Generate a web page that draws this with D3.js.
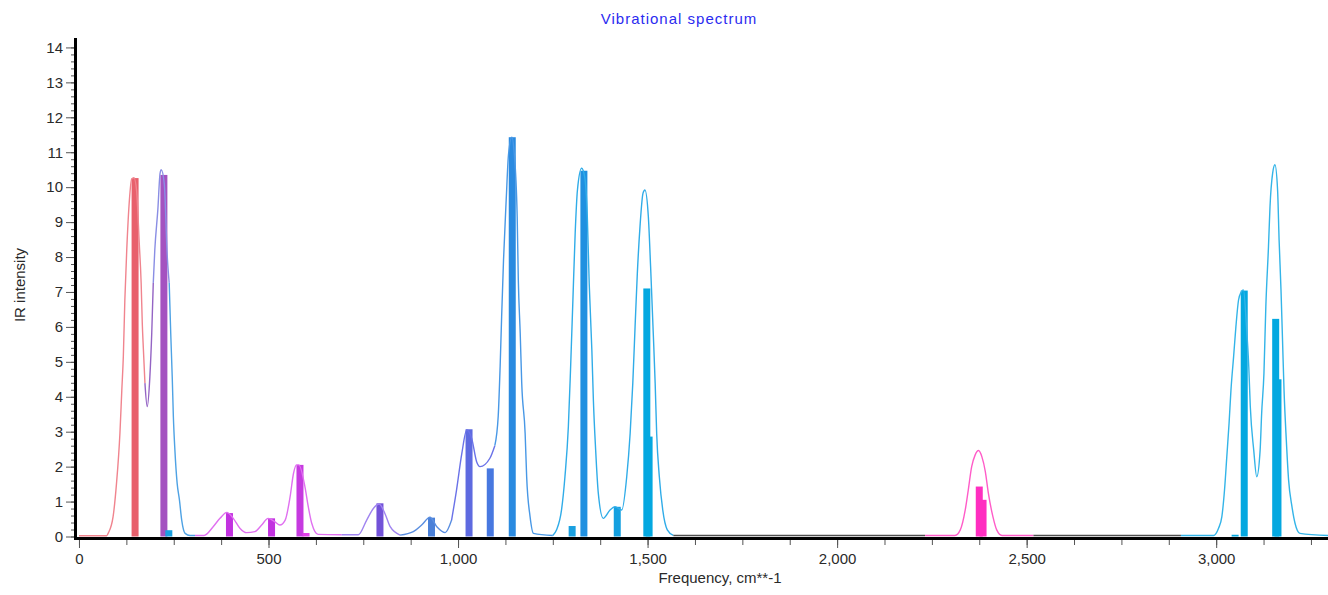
<!DOCTYPE html>
<html>
<head>
<meta charset="utf-8">
<script src="https://cdn.jsdelivr.net/npm/d3@7"></script>
<style>
  body { margin: 0; background: #fff; }
  svg text { font-family: "Liberation Sans", Arial, sans-serif; }
</style>
</head>
<body>
<div id="chart"></div>
<script>
// stick spectrum (frequency cm-1, IR intensity, colour)
var barFreq  = [148, 224, 237, 397, 508, 583, 599, 794, 930, 1029, 1085, 1143, 1301, 1332, 1420, 1498, 1504, 2375, 2385, 3050, 3074, 3157, 3163];
var barInt   = [10.26, 10.35, 0.18, 0.67, 0.52, 2.05, 0.1, 0.95, 0.54, 3.07, 1.95, 11.43, 0.3, 10.47, 0.85, 7.1, 2.86, 1.43, 1.05, 0.05, 7.04, 6.23, 4.5];
var barColor = ["#e8606c", "#a452c0", "#1aa0e0", "#c232e0", "#c232e0", "#c63ae0", "#e040e8", "#7252d8", "#4a80d8",
                "#5e6ae0", "#4878e0", "#2a8ae0", "#1aa0e0", "#2090e0", "#14a0e0", "#04a8e0", "#04a8e0", "#ff2ec0",
                "#ff2ec0", "#04a8e0", "#04a8e0", "#04a8e0", "#04a8e0"];

// broadened envelope
var envFreq = [0, 73, 77, 90, 99, 108, 113, 117, 121, 126, 133, 139, 145, 152, 159, 164, 167, 170, 174, 180,
               187, 192, 196, 200, 208, 214, 217, 225, 233, 238, 242, 246, 249, 253, 259, 265, 271, 280, 293, 306,
               330, 354, 372, 390, 407, 425, 442, 464, 482, 499, 517, 530, 544, 557, 566, 574, 580, 596, 605, 614,
               631, 693, 737, 759, 777, 792, 807, 821, 847, 882, 904, 926, 944, 966, 983, 996, 1010, 1023, 1036, 1049,
               1058, 1084, 1097, 1106, 1111, 1115, 1120, 1127, 1133, 1142, 1148, 1156, 1159, 1164, 1168, 1177, 1181, 1190, 1199, 1250,
               1260, 1273, 1282, 1291, 1297, 1303, 1309, 1315, 1326, 1334, 1341, 1346, 1353, 1357, 1363, 1370, 1383, 1401, 1414, 1432,
               1445, 1454, 1461, 1467, 1473, 1480, 1488, 1493, 1502, 1508, 1515, 1520, 1524, 1531, 1540, 1552, 1568, 2232, 2311, 2325,
               2338, 2346, 2355, 2364, 2373, 2382, 2391, 2399, 2411, 2421, 2435, 2518, 2907, 2993, 3006, 3015, 3022, 3028, 3034, 3039,
               3046, 3052, 3059, 3066, 3072, 3080, 3086, 3090, 3099, 3107, 3116, 3120, 3126, 3131, 3138, 3142, 3149, 3155, 3162, 3166,
               3171, 3175, 3179, 3185, 3191, 3200, 3208, 3221, 3295];
var envInt  = [0.02, 0.02, 0.09, 0.57, 1.52, 2.95, 4.19, 5.15, 6.77, 8.2, 9.63, 10.23, 10.27, 9.9, 8.4, 7.26, 6.1, 5.34, 4.39, 3.72,
               4.57, 5.83, 7.26, 8.2, 9.35, 10.4, 10.5, 10.1, 8.0, 7.26, 5.83, 4.57, 3.43, 2.48, 1.52, 1.05, 0.47, 0.09, 0.03, 0.03,
               0.03, 0.28, 0.52, 0.69, 0.52, 0.23, 0.11, 0.14, 0.33, 0.52, 0.42, 0.33, 0.47, 1.14, 1.81, 2.05, 2.05, 1.43, 0.85, 0.38,
               0.06, 0.05, 0.05, 0.47, 0.81, 0.93, 0.66, 0.28, 0.04, 0.14, 0.33, 0.55, 0.28, 0.11, 0.47, 1.33, 2.38, 3.05, 2.81, 2.14,
               2.0, 2.24, 2.6, 3.45, 4.86, 6.29, 7.92, 9.63, 10.92, 11.43, 11.0, 9.16, 7.34, 5.82, 4.39, 2.95, 1.71, 0.57, 0.09, 0.03,
               0.19, 0.76, 1.71, 3.14, 4.86, 6.77, 8.68, 9.92, 10.54, 10.3, 9.16, 7.25, 5.34, 3.91, 2.48, 1.24, 0.52, 0.76, 0.85, 0.76,
               1.71, 2.95, 4.39, 6.0, 7.54, 8.87, 9.83, 9.92, 9.16, 7.72, 5.82, 4.39, 2.95, 1.71, 0.76, 0.19, 0.03, 0.03, 0.03, 0.19,
               0.76, 1.33, 2.0, 2.33, 2.46, 2.28, 1.86, 1.24, 0.57, 0.19, 0.03, 0.03, 0.03, 0.03, 0.23, 0.57, 1.33, 2.28, 3.24, 4.19,
               5.15, 6.0, 6.77, 7.0, 7.06, 6.0, 4.86, 3.72, 2.48, 1.71, 2.48, 3.53, 4.67, 6.58, 8.3, 9.44, 10.4, 10.64, 9.92, 8.49,
               7.06, 5.63, 4.19, 2.76, 1.62, 0.85, 0.38, 0.09, 0.03];

// envelope colour changes at these frequencies
var segStart = [0, 174, 196, 238, 306, 693, 847, 983, 1097, 1250, 1568, 2232, 2518, 2907];
var segColor = ["#f0848e", "#9464c4", "#8a8ee4", "#4ea2e4", "#e070f0", "#a084f0", "#5a8ee0", "#6a72e8",
                "#4898e6", "#30ace8", "#505050", "#ff5cc8", "#505050", "#33b4e8"];

var xTicks = [0, 500, 1000, 1500, 2000, 2500, 3000];
var yTicks = [0, 1, 2, 3, 4, 5, 6, 7, 8, 9, 10, 11, 12, 13, 14];

var chart = (function () {
    'use strict';

    var width = 1328, height = 595;

    var init = function () {
        var config = {};
        config.svg = d3.select("#chart").append("svg")
            .attr("width", width)
            .attr("height", height);

        config.x = d3.scaleLinear().domain([-10.5, 3295]).range([75, 1328]);
        config.y = d3.scaleLinear().domain([0, 14.27]).range([536.5, 38]);

        axes(config);
        bars(config);
        envelope(config);
        labels(config);
        return config;
    };

    var axes = function (config) {
        var svg = config.svg, x = config.x, y = config.y;
        var yMinor = d3.range(0, 14.01, 0.2);
        var xMinor = d3.range(0, 3295, 125);

        svg.append("g")
            .attr("transform", "translate(75,0)")
            .call(d3.axisLeft(y).tickValues(yMinor).tickSize(4).tickFormat(""))
            .call(function (g) { g.select(".domain").remove(); })
            .selectAll("line").attr("stroke", "#555");

        var gy = svg.append("g")
            .attr("transform", "translate(75,0)")
            .call(d3.axisLeft(y).tickValues(yTicks).tickSize(9).tickPadding(3).tickFormat(d3.format("d")));
        gy.select(".domain").remove();
        gy.selectAll("line").attr("stroke", "#555");
        gy.selectAll("text").attr("font-size", 15).attr("fill", "#2a2a2a")
            .attr("font-family", "Liberation Sans, Arial, sans-serif");

        svg.append("g")
            .attr("transform", "translate(0,540)")
            .call(d3.axisBottom(x).tickValues(xMinor).tickSize(5).tickFormat(""))
            .call(function (g) { g.select(".domain").remove(); })
            .selectAll("line").attr("stroke", "#555");

        var gx = svg.append("g")
            .attr("transform", "translate(0,540)")
            .call(d3.axisBottom(x).tickValues(xTicks).tickSize(8).tickPadding(5).tickFormat(d3.format(",")));
        gx.select(".domain").remove();
        gx.selectAll("line").attr("stroke", "#555");
        gx.selectAll("text").attr("font-size", 15).attr("fill", "#2a2a2a")
            .attr("font-family", "Liberation Sans, Arial, sans-serif");

        // heavy axis lines
        svg.append("line")
            .attr("x1", 75.5).attr("x2", 75.5).attr("y1", 38).attr("y2", 540)
            .attr("stroke", "#000").attr("stroke-width", 3);
        svg.append("line")
            .attr("x1", 74).attr("x2", 1328).attr("y1", 538.5).attr("y2", 538.5)
            .attr("stroke", "#000").attr("stroke-width", 3);
    };

    var bars = function (config) {
        var x = config.x, y = config.y;
        var data = barFreq.map(function (f, i) {
            return { f: f, v: barInt[i], c: barColor[i] };
        });
        config.svg.append("g").selectAll("rect")
            .data(data)
            .enter()
            .append("rect")
            .attr("x", function (d) { return x(d.f) - 3.5; })
            .attr("width", 7)
            .attr("y", function (d) { return y(d.v); })
            .attr("height", function (d) { return y(0) - y(d.v); })
            .attr("fill", function (d) { return d.c; });
    };

    var envelope = function (config) {
        var x = config.x, y = config.y;
        var line = d3.line()
            .x(function (d) { return x(d[0]); })
            .y(function (d) { return y(d[1]); })
            .curve(d3.curveMonotoneX);

        var pts = envFreq.map(function (f, i) { return [f, envInt[i]]; });
        var segs = segStart.map(function (s, i) {
            var e = i < segStart.length - 1 ? segStart[i + 1] : Infinity;
            return {
                c: segColor[i],
                pts: pts.filter(function (p) { return p[0] >= s && p[0] <= e; })
            };
        });

        config.svg.append("g").selectAll("path")
            .data(segs)
            .enter()
            .append("path")
            .attr("d", function (d) { return line(d.pts); })
            .attr("fill", "none")
            .attr("stroke", function (d) { return d.c; })
            .attr("stroke-width", 1.4);
    };

    var labels = function (config) {
        var svg = config.svg;
        svg.append("text")
            .attr("x", 679).attr("y", 24)
            .attr("text-anchor", "middle")
            .attr("font-size", 15)
            .attr("letter-spacing", 1)
            .attr("fill", "#2b2bf0")
            .text("Vibrational spectrum");

        svg.append("text")
            .attr("x", 720).attr("y", 583)
            .attr("text-anchor", "middle")
            .attr("font-size", 15)
            .attr("fill", "#2a2a2a")
            .text("Frequency, cm**-1");

        svg.append("text")
            .attr("transform", "translate(25,285) rotate(-90)")
            .attr("text-anchor", "middle")
            .attr("font-size", 15)
            .attr("fill", "#2a2a2a")
            .text("IR intensity");
    };

    return { init: init };
}());

chart.init();
</script>
</body>
</html>
